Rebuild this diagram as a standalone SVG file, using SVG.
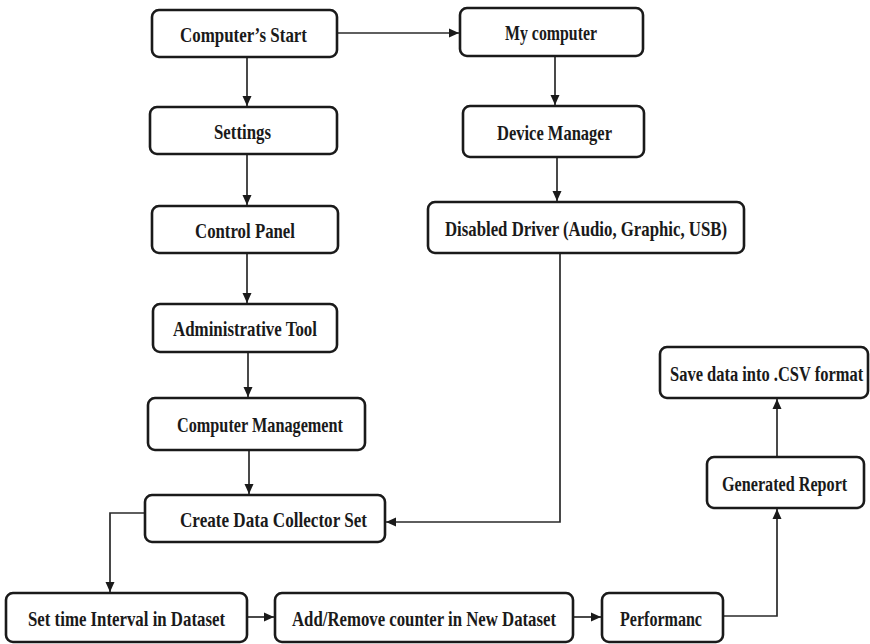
<svg xmlns="http://www.w3.org/2000/svg" width="870" height="644" viewBox="0 0 870 644">
  <style>
    .box { fill: #ffffff; stroke: #1a1a1a; stroke-width: 2.6; }
    .lbl { font-family: "Liberation Serif", "Times New Roman", serif; font-weight: bold; font-size: 21px; fill: #1a1a1a; }
    .edge { fill: none; stroke: #2a2a2a; stroke-width: 1.7; }
  </style>
  <defs>
    <marker id="arrow" viewBox="0 0 10 10" refX="10" refY="5" markerWidth="10" markerHeight="10" markerUnits="userSpaceOnUse" orient="auto">
      <path d="M0,0.5 L10,5 L0,9.5 Z" fill="#1a1a1a"/>
    </marker>
  </defs>
  <rect width="870" height="644" fill="#ffffff"/>

  <g id="connectors">
    <path class="edge" d="M337,33 H459" marker-end="url(#arrow)"/>
    <path class="edge" d="M247,57 V106" marker-end="url(#arrow)"/>
    <path class="edge" d="M247,154 V205" marker-end="url(#arrow)"/>
    <path class="edge" d="M247,253 V303" marker-end="url(#arrow)"/>
    <path class="edge" d="M248,352 V397" marker-end="url(#arrow)"/>
    <path class="edge" d="M249,450 V494" marker-end="url(#arrow)"/>
    <path class="edge" d="M555,56 V105" marker-end="url(#arrow)"/>
    <path class="edge" d="M557,157 V201" marker-end="url(#arrow)"/>
    <path class="edge" d="M560,253 V522 H386" marker-end="url(#arrow)"/>
    <path class="edge" d="M145,513 H110 V592" marker-end="url(#arrow)"/>
    <path class="edge" d="M247,617 H274" marker-end="url(#arrow)"/>
    <path class="edge" d="M573,617 H601" marker-end="url(#arrow)"/>
    <path class="edge" d="M723,616 H777 V509" marker-end="url(#arrow)"/>
    <path class="edge" d="M777,457 V399" marker-end="url(#arrow)"/>
  </g>

  <g id="computers-start">
    <rect class="box" x="152" y="10" width="185" height="47" rx="7"/>
    <text class="lbl" x="180" y="42" textLength="127" lengthAdjust="spacingAndGlyphs">Computer’s Start</text>
  </g>
  <g id="my-computer">
    <rect class="box" x="460" y="8" width="183" height="48" rx="7"/>
    <text class="lbl" x="505" y="40" textLength="92" lengthAdjust="spacingAndGlyphs">My computer</text>
  </g>
  <g id="settings">
    <rect class="box" x="150" y="107" width="187" height="47" rx="7"/>
    <text class="lbl" x="214" y="139" textLength="57" lengthAdjust="spacingAndGlyphs">Settings</text>
  </g>
  <g id="device-manager">
    <rect class="box" x="463" y="106" width="181" height="51" rx="7"/>
    <text class="lbl" x="497" y="140" textLength="115" lengthAdjust="spacingAndGlyphs">Device Manager</text>
  </g>
  <g id="control-panel">
    <rect class="box" x="152" y="206" width="186" height="47" rx="7"/>
    <text class="lbl" x="195" y="238" textLength="100" lengthAdjust="spacingAndGlyphs">Control Panel</text>
  </g>
  <g id="disabled-driver">
    <rect class="box" x="428" y="202" width="316" height="51" rx="7"/>
    <text class="lbl" x="445" y="236" textLength="282" lengthAdjust="spacingAndGlyphs">Disabled Driver (Audio, Graphic, USB)</text>
  </g>
  <g id="administrative-tool">
    <rect class="box" x="153" y="304" width="184" height="48" rx="7"/>
    <text class="lbl" x="173" y="336" textLength="144" lengthAdjust="spacingAndGlyphs">Administrative Tool</text>
  </g>
  <g id="computer-management">
    <rect class="box" x="148" y="398" width="217" height="52" rx="7"/>
    <text class="lbl" x="177" y="432" textLength="166" lengthAdjust="spacingAndGlyphs">Computer Management</text>
  </g>
  <g id="create-data-collector-set">
    <rect class="box" x="145" y="495" width="240" height="47" rx="7"/>
    <text class="lbl" x="180" y="527" textLength="187" lengthAdjust="spacingAndGlyphs">Create Data Collector Set</text>
  </g>
  <g id="save-data">
    <rect class="box" x="660" y="347" width="208" height="51" rx="7"/>
    <!-- condensed horizontally so the label fits the narrow box -->
    <text class="lbl" transform="translate(670,381) scale(0.785,1)" x="0" y="0">Save data into .CSV format</text>
  </g>
  <g id="generated-report">
    <rect class="box" x="707" y="457" width="157" height="51" rx="7"/>
    <text class="lbl" transform="translate(722,491) scale(0.77,1)" x="0" y="0">Generated Report</text>
  </g>
  <g id="set-time-interval">
    <rect class="box" x="6" y="593" width="241" height="49" rx="7"/>
    <text class="lbl" x="28" y="626" textLength="197" lengthAdjust="spacingAndGlyphs">Set time Interval in Dataset</text>
  </g>
  <g id="add-remove-counter">
    <rect class="box" x="275" y="593" width="298" height="49" rx="7"/>
    <text class="lbl" x="292" y="626" textLength="264" lengthAdjust="spacingAndGlyphs">Add/Remove counter in New Dataset</text>
  </g>
  <g id="performance">
    <rect class="box" x="602" y="593" width="121" height="49" rx="7"/>
    <text class="lbl" x="620" y="626" textLength="82" lengthAdjust="spacingAndGlyphs">Performanc</text>
  </g>
</svg>
